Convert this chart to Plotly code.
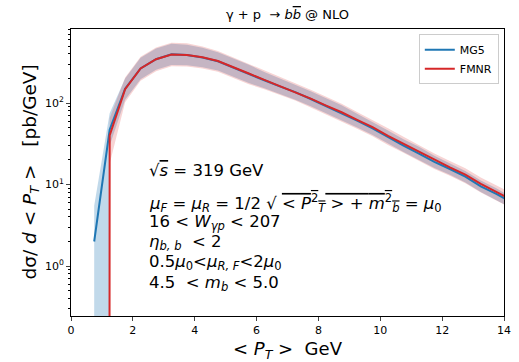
import plotly.graph_objects as go

# ---- data ----
pt = [0.75, 1.25, 1.75, 2.25, 2.75, 3.25, 3.75, 4.25, 4.75, 5.25, 5.75, 6.25, 6.75, 7.25,
      7.75, 8.25, 8.75, 9.25, 9.75, 10.25, 10.75, 11.25, 11.75, 12.25, 12.75, 13.25, 13.75, 14.25]

mg5 = [2.0, 47, 150, 265, 345, 395, 388, 362, 325, 270, 228, 190, 160, 136,
       112, 92, 76, 61, 49, 38, 30, 24, 19, 15.5, 12.5, 9.5, 7.7, 6.0]
mg5_up = [5.5, 75, 200, 360, 465, 535, 520, 475, 420, 350, 295, 240, 200, 170,
          139, 114, 94, 74, 59, 46, 36, 29, 22.6, 18.3, 14.7, 11.2, 9.0, 7.0]
mg5_lo = [0, 30, 110, 196, 255, 292, 290, 275, 250, 208, 176, 152, 130, 110,
          91, 75, 62, 50, 40.5, 31.5, 25, 20, 15.9, 13.2, 10.6, 8.1, 6.5, 5.1]

fmnr = [0, 40, 148, 265, 345, 393, 388, 365, 328, 272, 230, 192, 161, 137,
        113, 93, 77, 62, 50.5, 39.5, 31.5, 25, 20, 16.2, 13.2, 10.2, 8.1, 6.5]
fmnr_up = [0, 65, 205, 370, 480, 550, 540, 495, 435, 362, 305, 250, 207, 176,
           145, 119, 98, 77.5, 62, 49, 38.5, 30.5, 24, 19.5, 15.8, 12.2, 9.7, 7.8]
fmnr_lo = [0, 18, 102, 188, 245, 282, 280, 266, 242, 201, 170, 147, 126, 107,
           88, 72.5, 60, 48.5, 39, 30.5, 24.5, 19.5, 15.5, 12.8, 10.4, 8.0, 6.4, 5.1]

x_ticks = [0, 2, 4, 6, 8, 10, 12, 14]
y_ticks = [1, 10, 100]
y_ticktext = ["10<sup>0</sup>", "10<sup>1</sup>", "10<sup>2</sup>"]

# log axis: non-positive values clipped to a tiny value (as matplotlib does)
FLOOR = 1e-300
def clip(v):
    return [a if a > 0 else FLOOR for a in v]

BLUE = "#1f77b4"
RED = "#d62728"
FONT = "DejaVu Sans"

fig = go.Figure()

def band(lo, up, color_rgba):
    fig.add_trace(go.Scatter(x=pt, y=clip(lo), mode="lines", line=dict(width=0),
                             showlegend=False, hoverinfo="skip"))
    fig.add_trace(go.Scatter(x=pt, y=clip(up), mode="lines", line=dict(width=0),
                             fill="tonexty", fillcolor=color_rgba,
                             showlegend=False, hoverinfo="skip"))

band(mg5_lo, mg5_up, "rgba(31,119,180,0.28)")
band(fmnr_lo, fmnr_up, "rgba(214,39,40,0.2)")

fig.add_trace(go.Scatter(x=pt, y=clip(mg5), mode="lines", name="MG5",
                         line=dict(color=BLUE, width=2)))
fig.add_trace(go.Scatter(x=pt, y=clip(fmnr), mode="lines", name="FMNR",
                         line=dict(color=RED, width=2)))

minor_vals = []
for dec in [0.1, 1, 10, 100]:
    for k in range(2, 10):
        minor_vals.append(dec * k)

fig.update_layout(
    width=519, height=362,
    margin=dict(l=71, r=8, t=29, b=46),
    paper_bgcolor="white", plot_bgcolor="white",
    font=dict(family=FONT, size=11, color="black"),
    showlegend=True,
    legend=dict(x=0.988, y=0.982, xanchor="right", yanchor="top", traceorder="normal",
                bgcolor="rgba(255,255,255,0.8)", bordercolor="#cccccc", borderwidth=1,
                font=dict(size=11, family=FONT), tracegroupgap=0),
    xaxis=dict(range=[0, 14], tickvals=x_ticks, ticks="outside", ticklen=4, tickwidth=1,
               showline=True, linecolor="black", linewidth=1, mirror=True,
               showgrid=False, zeroline=False, tickfont=dict(size=11)),
    yaxis=dict(type="log", range=[-0.613, 2.908], tickvals=y_ticks, ticktext=y_ticktext,
               ticks="outside", ticklen=4, tickwidth=1,
               showline=True, linecolor="black", linewidth=1, mirror=True,
               showgrid=False, zeroline=False, tickfont=dict(size=11),
               minor=dict(tickvals=minor_vals, ticks="outside", ticklen=2,
                          tickcolor="black", showgrid=False)),
)

annos = [
    dict(text="γ + p  → <i>b</i><span style='text-decoration:overline'><i>b</i></span> @ NLO",
         x=0.5, y=1.0, xref="paper", yref="paper",
         xanchor="center", yanchor="bottom", yshift=5, font=dict(size=13)),
    dict(text="dσ/ <i>d</i> < <i>P<sub>T</sub></i> >   [pb/GeV]", x=0, y=0.5, xref="paper",
         yref="paper", xanchor="center", yanchor="middle", xshift=-41, textangle=-90,
         font=dict(size=18.5)),
    dict(text="< <i>P<sub>T</sub></i> >  GeV", x=0.5, y=0, xref="paper", yref="paper",
         xanchor="center", yanchor="top", yshift=-20, font=dict(size=18)),
]

lines = [
    ("√<span style='text-decoration:overline'><i>s</i></span> = 319 GeV", 170),
    ("<i>μ<sub>F</sub></i> = <i>μ<sub>R</sub></i> = 1/2 √ "
     "<span style='text-decoration:overline'>< <i>P</i><sup>2</sup><sub><i>T</i></sub> > + "
     "<i>m</i><sup>2</sup><sub><i>b</i></sub></span> = <i>μ</i><sub>0</sub>", 203),
    ("16 < <i>W<sub>γp</sub></i> < 207", 222),
    ("<i>η<sub>b, b</sub></i>  < 2", 242),
    ("0.5<i>μ</i><sub>0</sub><<i>μ<sub>R, F</sub></i><2<i>μ</i><sub>0</sub>", 262),
    ("4.5  < <i>m<sub>b</sub></i> < 5.0", 283),
]
for txt, ypix in lines:
    annos.append(dict(text=txt, x=(148 - 71) / 440.0, y=1 - (ypix - 29) / 287.0,
                      xref="paper", yref="paper", xanchor="left", yanchor="middle",
                      showarrow=False, font=dict(size=16.5)))

for a in annos:
    a.setdefault("showarrow", False)
fig.update_layout(annotations=annos)

fig.write_html("out.html", config={"displayModeBar": False},
               post_script="document.body.style.margin='0';document.body.style.overflow='hidden';")
